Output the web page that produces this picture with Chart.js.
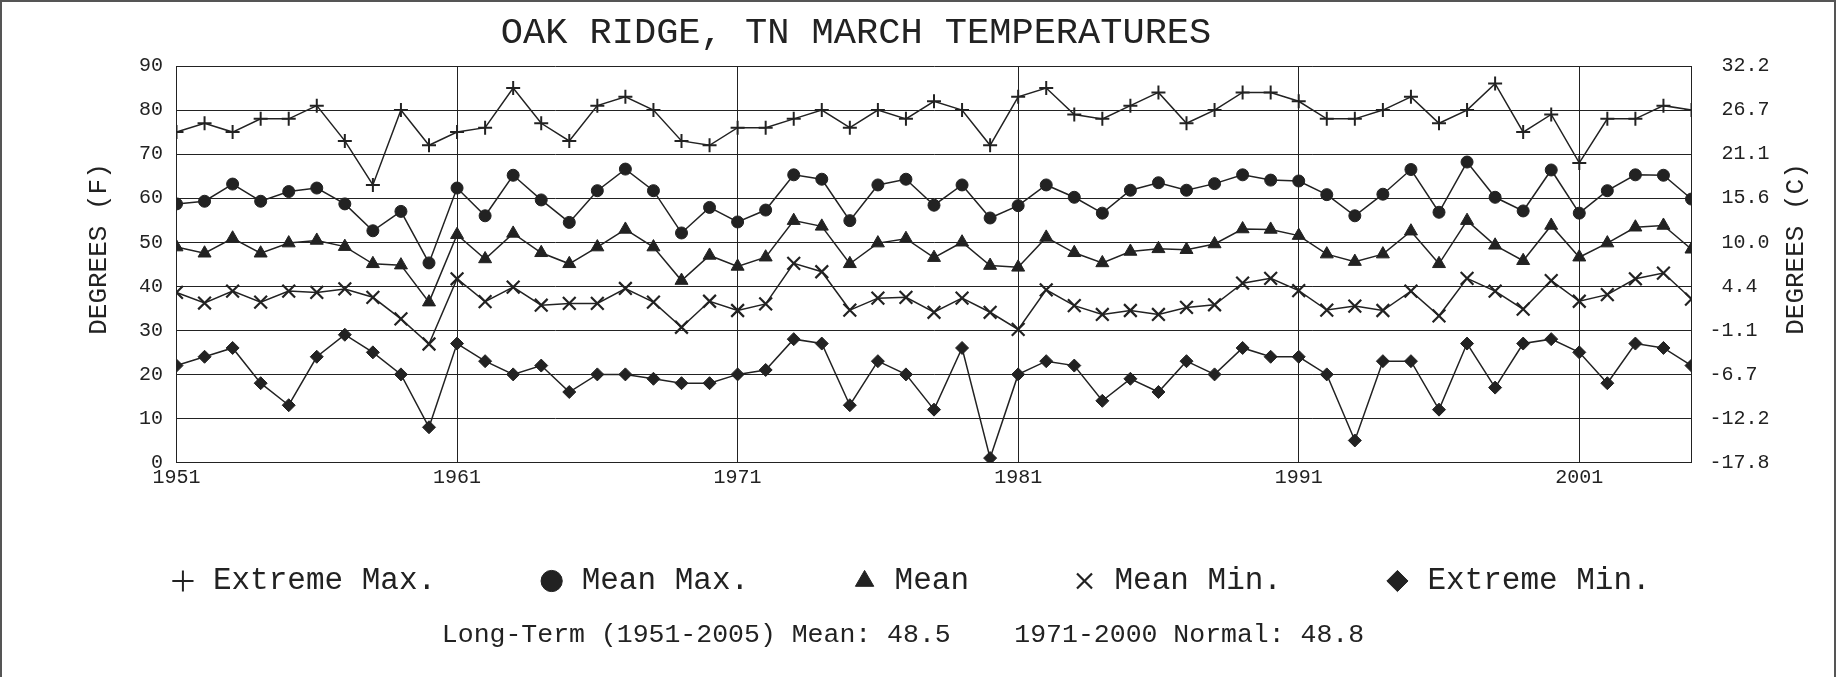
<!DOCTYPE html>
<html>
<head>
<meta charset="utf-8">
<title>Oak Ridge, TN March Temperatures</title>
<script src="https://cdn.jsdelivr.net/npm/chart.js@4.4.1/dist/chart.umd.min.js"></script>
<style>
  html, body { margin:0; padding:0; background:#fff; }
  body { width:1843px; height:677px; overflow:hidden; position:relative; }
  #chart { position:absolute; left:0; top:0; }
  .frame { position:absolute; left:0; top:0; width:1836px; height:700px; box-sizing:border-box;
           border:2px solid #555; border-bottom:none; pointer-events:none; }
</style>
</head>
<body>
<canvas id="chart" width="1843" height="677"></canvas>
<div class="frame"></div>
<script>
/* =========================================
   Oak Ridge, TN - March temperatures 1951-2005
   ========================================= */

// --------------------------
// data (deg F)
// --------------------------
const years = [
  1951,1952,1953,1954,1955,1956,1957,1958,1959,1960,
  1961,1962,1963,1964,1965,1966,1967,1968,1969,1970,
  1971,1972,1973,1974,1975,1976,1977,1978,1979,1980,
  1981,1982,1983,1984,1985,1986,1987,1988,1989,1990,
  1991,1992,1993,1994,1995,1996,1997,1998,1999,2000,
  2001,2002,2003,2004,2005
];
const extremeMax = [
  75,77,75,78,78,81,73,63,80,72,
  75,76,85,77,73,81,83,80,73,72,
  76,76,78,80,76,80,78,82,80,72,
  83,85,79,78,81,84,77,80,84,84,
  82,78,78,80,83,77,80,86,75,79,
  68,78,78,81,80
];
const meanMax = [
  58.7,59.3,63.2,59.3,61.5,62.3,58.7,52.6,57.0,45.3,
  62.3,56.0,65.2,59.6,54.5,61.7,66.6,61.7,52.1,57.9,
  54.6,57.3,65.3,64.3,54.9,63.0,64.3,58.4,63.0,55.5,
  58.3,63.0,60.2,56.6,61.8,63.5,61.8,63.3,65.3,64.1,
  63.9,60.8,56.0,60.9,66.5,56.8,68.2,60.2,57.1,66.4,
  56.6,61.7,65.3,65.2,59.8
];
const mean = [
  48.9,47.5,50.9,47.5,49.8,50.4,49.0,45.1,44.8,36.4,
  51.7,46.2,52.0,47.6,45.1,48.9,52.9,48.9,41.3,47.0,
  44.5,46.6,54.9,53.6,45.1,49.8,50.8,46.5,50.0,44.7,
  44.3,51.1,47.6,45.3,47.9,48.5,48.3,49.6,53.0,52.9,
  51.5,47.3,45.6,47.3,52.5,45.1,54.9,49.3,45.8,53.8,
  46.6,49.8,53.4,53.8,48.4
];
const meanMin = [
  38.6,36.2,38.9,36.4,38.9,38.6,39.4,37.5,32.6,26.9,
  41.7,36.5,39.8,35.7,36.1,36.1,39.5,36.4,30.7,36.6,
  34.5,36.0,45.2,43.3,34.6,37.3,37.5,34.1,37.3,34.1,
  30.2,39.2,35.6,33.6,34.5,33.6,35.2,35.8,40.7,41.8,
  39.0,34.6,35.5,34.5,38.9,33.3,41.8,38.9,34.8,41.3,
  36.6,38.1,41.7,43.0,37.1
];
const extremeMin = [
  22,24,26,18,13,24,29,25,20,8,
  27,23,20,22,16,20,20,19,18,18,
  20,21,28,27,13,23,20,12,26,1,
  20,23,22,14,19,16,23,20,26,24,
  24,20,5,23,23,12,27,17,27,28,
  25,18,27,26,22
];

// axis ticks
const xTickYears = [1951,1961,1971,1981,1991,2001];
const celsiusTicks = ['-17.8','-12.2','-6.7','-1.1','4.4','10.0','15.6','21.1','26.7','32.2'];

// texts
const TITLE = 'OAK RIDGE, TN MARCH TEMPERATURES';
const NOTE = 'Long-Term (1951-2005) Mean: 48.5    1971-2000 Normal: 48.8';

(function(){
  const INK = '#222';
  const MONO = '"Liberation Mono", "DejaVu Sans Mono", monospace';

  const pts = arr => years.map((yr, i) => ({ x: yr, y: arr[i] }));

  // legend labels carry two trailing spaces (monospace gap between items)
  function series(label, arr, style, radius, bw){
    return {
      label: label + '  ', data: pts(arr),
      borderColor: INK, borderWidth: 1.5, backgroundColor: INK,
      pointStyle: style, pointRadius: radius, pointHoverRadius: radius,
      pointBackgroundColor: INK, pointBorderColor: INK, pointBorderWidth: bw,
      tension: 0, fill: false
    };
  }

  // --------------------------
  // titles / notes drawn around the plot
  // --------------------------
  const decor = {
    id: 'decor',
    afterDraw(chart){
      const ctx = chart.ctx;
      ctx.save();
      ctx.fillStyle = INK;
      ctx.textAlign = 'center';
      ctx.textBaseline = 'middle';

      ctx.font = '37px ' + MONO;
      ctx.fillText(TITLE, 856, 33);

      ctx.font = '26.5px ' + MONO;
      ctx.fillText(NOTE, 903, 635);

      ctx.font = '26px ' + MONO;
      [['DEGREES (F)', 99], ['DEGREES (C)', 1796]].forEach(([t, x]) => {
        ctx.save();
        ctx.translate(x, 249);
        ctx.rotate(-Math.PI / 2);
        ctx.fillText(t, 0, 0);
        ctx.restore();
      });
      ctx.restore();
    }
  };

  new Chart(document.getElementById('chart'), {
    type: 'line',
    data: {
      datasets: [
        series('Extreme Max.', extremeMax, 'cross', 7, 2),
        series('Mean Max.', meanMax, 'circle', 6, 1),
        series('Mean', mean, 'triangle', 7.5, 1),
        series('Mean Min.', meanMin, 'crossRot', 9, 2.2),
        series('Extreme Min.', extremeMin, 'rectRot', 6.5, 1)
      ]
    },
    options: {
      responsive: false,
      animation: false,
      layout: { padding: { top: 66, left: 13.3, right: 0, bottom: 70.5 } },
      plugins: {
        title: { display: false },
        tooltip: { enabled: false },
        legend: {
          display: true,
          position: 'bottom',
          labels: {
            usePointStyle: true,
            boxWidth: 29, boxHeight: 15,
            padding: 63.8,
            color: INK,
            font: { family: MONO, size: 31 }
          }
        }
      },
      scales: {
        x: {
          type: 'linear',
          min: 1951, max: 2005,
          afterBuildTicks: s => { s.ticks = xTickYears.map(v => ({ value: v })); },
          afterFit: s => { s.height = 39.2; },
          grid: { color: INK, lineWidth: 1, drawTicks: false },
          border: { display: true, color: INK, width: 1 },
          ticks: {
            color: INK, padding: 5, maxRotation: 0, autoSkip: false,
            font: { family: MONO, size: 20, lineHeight: 1 },
            callback: v => String(v)
          }
        },
        y: {
          position: 'left',
          min: 0, max: 90,
          afterFit: s => { s.width = 163.2; },
          grid: { color: INK, lineWidth: 1, drawTicks: false },
          border: { display: true, color: INK, width: 1 },
          ticks: {
            stepSize: 10, color: INK, padding: 13.5,
            font: { family: MONO, size: 20 }
          }
        },
        y2: {
          position: 'right',
          min: 0, max: 90,
          afterFit: s => { s.width = 151.5; },
          grid: { drawOnChartArea: false, drawTicks: false },
          border: { display: true, color: INK, width: 1 },
          ticks: {
            stepSize: 10, color: INK, padding: 18,
            font: { family: MONO, size: 20 },
            callback: v => {
              const c = celsiusTicks[Math.round(v / 10)];
              return c.startsWith('-') ? c : ' ' + c;
            }
          }
        }
      }
    },
    plugins: [decor]
  });
})();
</script>
</body>
</html>
